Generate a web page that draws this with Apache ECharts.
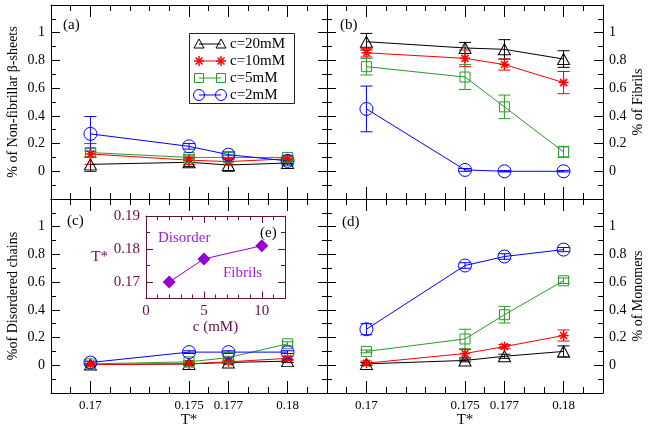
<!DOCTYPE html>
<html><head><meta charset="utf-8">
<script src="https://cdn.jsdelivr.net/npm/echarts@6/dist/echarts.min.js"></script>
<style>html,body{margin:0;padding:0;background:#fff}#c{width:649px;height:430px}</style>
</head><body><div id="c"></div>
<script>
// ---------- data ----------
const temps = [0.17, 0.175, 0.177, 0.18];
const tempTickLabels = [0.17, 0.175, 0.177, 0.18];
const concNames = ['c=20mM', 'c=10mM', 'c=5mM', 'c=2mM'];
const yTickLabels = [0, 0.2, 0.4, 0.6, 0.8, 1];

// (a) non-fibrillar beta-sheets
const beta20 = [0.05, 0.065, 0.045, 0.06];   const beta20Err = [0.05, 0.03, 0.045, 0.015];
const beta10 = [0.125, 0.08, 0.07, 0.09];    const beta10Err = [0.075, 0.03, 0.02, 0.02];
const beta5  = [0.135, 0.10, 0.10, 0.10];    const beta5Err  = [0.03, 0.02, 0.015, 0.015];
const beta2  = [0.27, 0.18, 0.12, 0.075];    const beta2Err  = [0.125, 0.02, 0.02, 0.02];
// (b) fibrils
const fib20 = [0.935, 0.89, 0.88, 0.81];     const fib20Err = [0.06, 0.04, 0.07, 0.06];
const fib10 = [0.855, 0.815, 0.77, 0.64];    const fib10Err = [0.03, 0.06, 0.04, 0.08];
const fib5  = [0.755, 0.68, 0.465, 0.14];    const fib5Err  = [0.06, 0.09, 0.085, 0.04];
const fib2  = [0.45, 0.01, 0.0, 0.0];        const fib2Err  = [0.165, 0.01, 0.005, 0.005];
// (c) disordered chains
const dis20 = [0.005, 0.01, 0.02, 0.03];     const dis20Err = [0.005, 0.005, 0.01, 0.01];
const dis10 = [0.005, 0.01, 0.025, 0.05];    const dis10Err = [0.005, 0.01, 0.01, 0.015];
const dis5  = [0.01, 0.025, 0.055, 0.155];   const dis5Err  = [0.005, 0.01, 0.01, 0.015];
const dis2  = [0.02, 0.095, 0.095, 0.095];   const dis2Err  = [0.01, 0.01, 0.01, 0.01];
// (d) monomers
const mon20 = [0.01, 0.035, 0.065, 0.10];    const mon20Err = [0.01, 0.01, 0.015, 0.04];
const mon10 = [0.015, 0.085, 0.135, 0.215];  const mon10Err = [0.015, 0.03, 0.015, 0.04];
const mon5  = [0.10, 0.19, 0.365, 0.61];     const mon5Err  = [0.01, 0.07, 0.06, 0.02];
const mon2  = [0.26, 0.72, 0.785, 0.835];    const mon2Err  = [0.04, 0.02, 0.02, 0.015];
// (e) inset
const insetConc = [2, 5, 10];
const insetT = [0.17, 0.177, 0.181];
const insetXLabels = [0, 5, 10];
const insetYLabels = [0.17, 0.18, 0.19];

// ---------- styles ----------
const FONT = 'Liberation Serif';
const colors = ['#000000', '#ff0000', '#2a9a2a', '#0000ff'];
const STAR = 'path://M5 0L5 10M0 5L10 5M1.5 1.5L8.5 8.5M1.5 8.5L8.5 1.5';
const symbols = ['triangle', STAR, 'rect', 'circle'];
const symbolSizes = [[12, 11], 10, 10, 13];
const symbolWidths = [1, 1.5, 1, 1];

const panels = [
  {left: 51, top: 5, side: 'left', xLabels: false, title: '% of Non-fibrillar β-sheets', tag: '(a)',
   vals: [beta20, beta10, beta5, beta2], errs: [beta20Err, beta10Err, beta5Err, beta2Err]},
  {left: 327, top: 5, side: 'right', xLabels: false, title: '% of Fibrils', tag: '(b)',
   vals: [fib20, fib10, fib5, fib2], errs: [fib20Err, fib10Err, fib5Err, fib2Err]},
  {left: 51, top: 199, side: 'left', xLabels: true, title: '%of Disordered chains', tag: '(c)',
   vals: [dis20, dis10, dis5, dis2], errs: [dis20Err, dis10Err, dis5Err, dis2Err]},
  {left: 327, top: 199, side: 'right', xLabels: true, title: '% of Monomers', tag: '(d)',
   vals: [mon20, mon10, mon5, mon2], errs: [mon20Err, mon10Err, mon5Err, mon2Err]}
];
const PW = 276, PH = 194;

const grids = [], xAxes = [], yAxes = [], series = [];
const black = {color: '#000', width: 1};

panels.forEach((p, g) => {
  grids.push({left: p.left, top: p.top, width: PW, height: PH, show: false, containLabel: false, outerBoundsMode: 'none'});
  ['bottom', 'top'].forEach(pos => {
    xAxes.push({gridIndex: g, type: 'value', position: pos, min: 0.168, max: 0.182, interval: 0.001,
      axisLine: {show: true, onZero: false, lineStyle: black},
      axisTick: {show: true, inside: true, length: 6, lineStyle: black},
      axisLabel: {show: false}, splitLine: {show: false}});
    const showLab = pos === 'bottom' && p.xLabels;
    xAxes.push({gridIndex: g, type: 'value', position: pos, min: 0.168, max: 0.182,
      axisLine: {show: false, onZero: false},
      axisTick: {show: true, inside: true, length: 12, customValues: tempTickLabels, lineStyle: black},
      axisLabel: {show: showLab, customValues: tempTickLabels, margin: 6, fontFamily: FONT, fontSize: 13, color: '#000'},
      splitLine: {show: false},
      name: showLab ? 'T*' : '', nameLocation: 'middle', nameGap: 19,
      nameTextStyle: {fontFamily: FONT, fontSize: 15, color: '#000'}});
  });
  ['left', 'right'].forEach(pos => {
    const showLab = pos === p.side;
    yAxes.push({gridIndex: g, type: 'value', position: pos, min: -0.2, max: 1.2, interval: 0.2,
      axisLine: {show: true, onZero: false, lineStyle: black},
      axisTick: {show: true, inside: true, length: 9, lineStyle: black},
      minorTick: {show: true, splitNumber: 2, length: 5, lineStyle: black},
      axisLabel: {show: showLab, customValues: yTickLabels, margin: 6, fontFamily: FONT, fontSize: 14, color: '#000'},
      splitLine: {show: false},
      name: showLab ? p.title : '', nameLocation: 'middle', nameRotate: 90, nameGap: pos === 'left' ? 31 : 28,
      nameTextStyle: {fontFamily: FONT, fontSize: 14, color: '#000'}});
  });
  p.vals.forEach((vals, k) => {
    const col = colors[k];
    series.push({type: 'custom', xAxisIndex: g * 4, yAxisIndex: g * 2, silent: true, z: 2,
      data: temps.map((t, i) => [t, vals[i], p.errs[k][i]]),
      renderItem: (params, api) => {
        const x = api.value(0), y = api.value(1), e = api.value(2);
        const a = api.coord([x, y + e]), b = api.coord([x, y - e]);
        const hw = 6, st = {stroke: col, lineWidth: 1};
        return {type: 'group', children: [
          {type: 'line', shape: {x1: a[0], y1: a[1], x2: b[0], y2: b[1]}, style: st},
          {type: 'line', shape: {x1: a[0] - hw, y1: a[1], x2: a[0] + hw, y2: a[1]}, style: st},
          {type: 'line', shape: {x1: b[0] - hw, y1: b[1], x2: b[0] + hw, y2: b[1]}, style: st}
        ]};
      }});
    series.push({type: 'line', name: concNames[k], xAxisIndex: g * 4, yAxisIndex: g * 2, silent: true, z: 3,
      data: temps.map((t, i) => [t, vals[i]]),
      symbol: symbols[k], symbolSize: symbolSizes[k], showAllSymbol: true,
      itemStyle: {color: 'none', borderColor: col, borderWidth: symbolWidths[k]},
      lineStyle: {color: col, width: 1}, emphasis: {disabled: true}});
  });
});

// inset grid (index 4)
const IG = 4;
const maroon = '#5e1240';
grids.push({left: 146, top: 216, width: 139, height: 82.5, show: false, containLabel: false, outerBoundsMode: 'none'});
const mar = {color: maroon, width: 1};
['bottom', 'top'].forEach(pos => {
  xAxes.push({gridIndex: IG, type: 'value', position: pos, min: 0, max: 12, interval: 1,
    axisLine: {show: true, onZero: false, lineStyle: mar},
    axisTick: {show: true, inside: true, length: 4, lineStyle: mar},
    axisLabel: {show: false}, splitLine: {show: false}});
  const showLab = pos === 'bottom';
  xAxes.push({gridIndex: IG, type: 'value', position: pos, min: 0, max: 12,
    axisLine: {show: false, onZero: false},
    axisTick: {show: true, inside: true, length: 7, customValues: insetXLabels, lineStyle: mar},
    axisLabel: {show: showLab, customValues: insetXLabels, margin: 5, fontFamily: FONT, fontSize: 15, color: '#6b0a4a'},
    splitLine: {show: false},
    name: showLab ? 'c (mM)' : '', nameLocation: 'middle', nameGap: 21,
    nameTextStyle: {fontFamily: FONT, fontSize: 15, color: '#6b0a4a'}});
});
['left', 'right'].forEach(pos => {
  yAxes.push({gridIndex: IG, type: 'value', position: pos, min: 0.165, max: 0.19, interval: 0.005,
    axisLine: {show: true, onZero: false, lineStyle: mar},
    axisTick: {show: true, inside: true, length: 4, lineStyle: mar},
    axisLabel: {show: false}, splitLine: {show: false}});
  const showLab = pos === 'left';
  yAxes.push({gridIndex: IG, type: 'value', position: pos, min: 0.165, max: 0.19,
    axisLine: {show: false, onZero: false},
    axisTick: {show: true, inside: true, length: 7, customValues: insetYLabels, lineStyle: mar},
    axisLabel: {show: showLab, customValues: insetYLabels, margin: 6, fontFamily: FONT, fontSize: 15, color: '#6b0a4a'},
    splitLine: {show: false},
    name: showLab ? 'T*' : '', nameLocation: 'middle', nameRotate: 0, nameGap: 38,
    nameTextStyle: {fontFamily: FONT, fontSize: 15, color: '#6b0a4a'}});
});
series.push({type: 'line', name: 'transition', xAxisIndex: 16, yAxisIndex: 8, silent: true, z: 5,
  data: insetConc.map((c, i) => [c, insetT[i]]),
  symbol: 'diamond', symbolSize: 13, itemStyle: {color: '#9400d3'},
  lineStyle: {color: '#9400d3', width: 1}, emphasis: {disabled: true}});

// ---------- graphics (panel tags, legend, inset texts) ----------
const graphic = [];
const txt = (x, y, s, color, size, align) => ({type: 'text', x, y, z: 10,
  style: {text: s, fill: color || '#000', font: (size || 15) + 'px "' + FONT + '"', textAlign: align || 'left', textVerticalAlign: 'middle'}});
graphic.push(txt(63, 25, '(a)'), txt(340, 25, '(b)'), txt(67, 221, '(c)'), txt(342, 222, '(d)'));
graphic.push(txt(158, 238, 'Disorder', '#9b22d6'), txt(223, 273, 'Fibrils', '#9b22d6'), txt(260, 233, '(e)'));

// legend box
graphic.push({type: 'rect', shape: {x: 189.5, y: 33.5, width: 105, height: 70}, z: 10,
  style: {fill: '#fff', stroke: '#222', lineWidth: 1}});
const legRows = [44, 61, 78, 95];
const seg = (x1, y1, x2, y2, st) => ({type: 'line', z: 11, shape: {x1, y1, x2, y2}, style: st});
const legMarker = (k, x, y) => {
  const st = {fill: 'none', stroke: colors[k], lineWidth: 1};
  if (k === 0) return [{type: 'polygon', z: 11, shape: {points: [[x - 5, y + 4], [x, y - 5], [x + 5, y + 4]]}, style: st}];
  if (k === 1) {
    const s2 = {stroke: colors[k], lineWidth: 1.5};
    return [seg(x, y - 5, x, y + 5, s2), seg(x - 5, y, x + 5, y, s2),
            seg(x - 3.5, y - 3.5, x + 3.5, y + 3.5, s2), seg(x - 3.5, y + 3.5, x + 3.5, y - 3.5, s2)];
  }
  if (k === 2) return [{type: 'rect', z: 11, shape: {x: x - 4.5, y: y - 4.5, width: 9, height: 9}, style: st}];
  return [{type: 'circle', z: 11, shape: {cx: x, cy: y, r: 5.5}, style: st}];
};
concNames.forEach((n, k) => {
  const y = legRows[k];
  graphic.push(seg(199, y, 221, y, {stroke: colors[k], lineWidth: 1}));
  graphic.push(...legMarker(k, 199, y), ...legMarker(k, 221, y));
  graphic.push(txt(230, y + 0.5, n, '#000', 15));
});

const chart = echarts.init(document.getElementById('c'), null, {renderer: 'canvas'});
chart.setOption({
  animation: false, backgroundColor: '#fff',
  grid: grids, xAxis: xAxes, yAxis: yAxes, series, graphic
});
</script></body></html>
